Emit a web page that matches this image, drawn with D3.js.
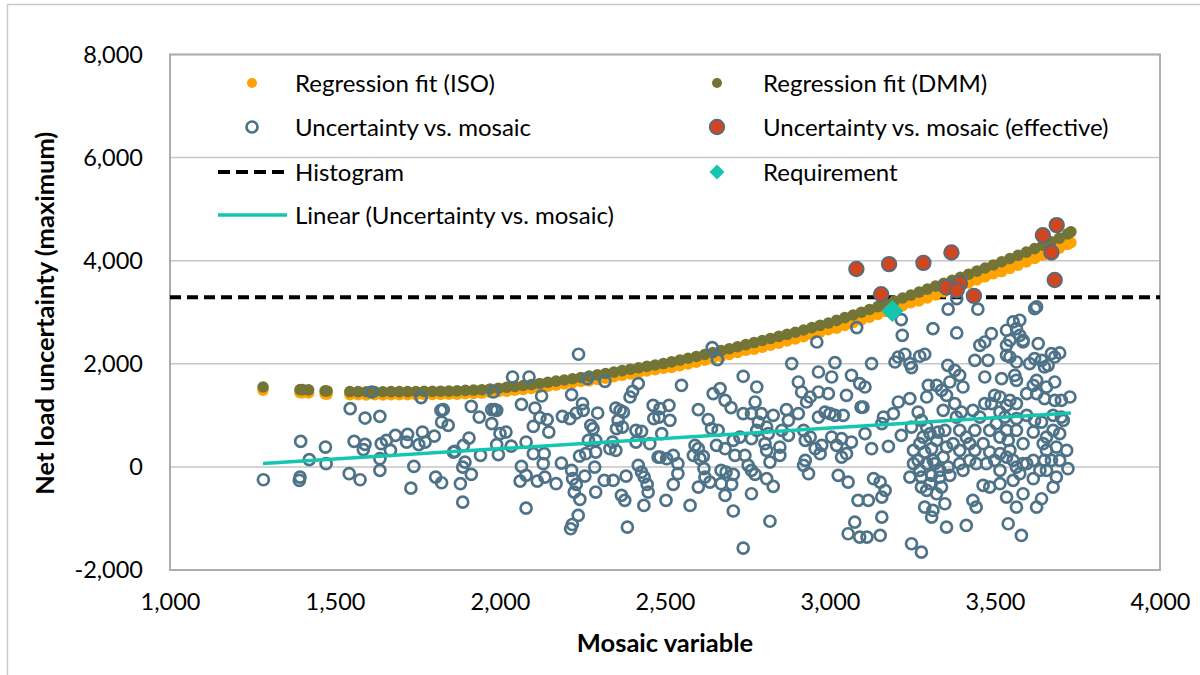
<!DOCTYPE html>
<html>
<head>
<meta charset="utf-8">
<script src="https://cdn.jsdelivr.net/npm/d3@7"></script>
<style>
  html, body { margin: 0; padding: 0; background: #fff; }
  svg { display: block; }
  text { font-family: Lato, "Open Sans", sans-serif; fill: #000; }
</style>
</head>
<body>
<svg id="chart" width="1200" height="675"></svg>
<script>
// ---- data ----
const yTicks = [-2000, 0, 2000, 4000, 6000, 8000];
const xTicks = [1000, 1500, 2000, 2500, 3000, 3500, 4000];

// mosaic variable positions of the regression-fit points
const fitX = [1282, 1394, 1402, 1420, 1470, 1476,
  1545, 1570, 1595, 1620, 1645, 1670, 1695, 1720, 1745, 1770, 1795, 1820, 1845,
  1870, 1895, 1920, 1945, 1970, 1995, 2020, 2045, 2070, 2095, 2120, 2145, 2170, 2195,
  2220, 2245, 2270, 2295, 2320, 2345, 2370, 2395, 2420, 2445, 2470, 2495, 2520, 2545,
  2570, 2595, 2620, 2645, 2670, 2695, 2720, 2745, 2770, 2795, 2820, 2845, 2870, 2895,
  2920, 2945, 2970, 2995, 3020, 3045, 3070, 3095, 3120, 3145, 3170, 3195, 3220, 3245,
  3270, 3295, 3320, 3345, 3370, 3395, 3420, 3445, 3470, 3495, 3520, 3545, 3570, 3595,
  3620, 3645, 3670, 3695, 3720, 3730];

const fitISO = [1490, 1440, 1440, 1435, 1415, 1413,
  1402, 1400, 1398, 1400, 1398, 1400, 1401, 1402, 1403, 1405, 1406, 1408, 1410,
  1411, 1419, 1426, 1433, 1447, 1462, 1469, 1487, 1504, 1522, 1543, 1566, 1588, 1611,
  1635, 1660, 1670, 1695, 1722, 1750, 1777, 1805, 1832, 1860, 1887, 1915, 1928, 1963,
  1998, 2033, 2070, 2108, 2145, 2183, 2222, 2262, 2282, 2322, 2362, 2402, 2442, 2482,
  2526, 2571, 2616, 2661, 2692, 2745, 2797, 2850, 2904, 2959, 3014, 3069, 3126, 3184,
  3221, 3279, 3336, 3394, 3451, 3509, 3568, 3628, 3688, 3748, 3790, 3853, 3915, 3978,
  4044, 4110, 4177, 4245, 4315, 4350];

const fitDMM = [1550, 1500, 1500, 1495, 1475, 1473,
  1462, 1460, 1458, 1460, 1458, 1460, 1461, 1462, 1463, 1465, 1466, 1468, 1470,
  1476, 1484, 1491, 1498, 1512, 1527, 1544, 1562, 1579, 1597, 1618, 1641, 1663, 1686,
  1710, 1735, 1760, 1785, 1812, 1840, 1867, 1895, 1922, 1950, 1977, 2005, 2038, 2073,
  2108, 2143, 2180, 2218, 2255, 2293, 2332, 2372, 2412, 2452, 2492, 2532, 2572, 2612,
  2656, 2701, 2746, 2791, 2842, 2895, 2947, 3000, 3054, 3109, 3164, 3219, 3276, 3334,
  3391, 3449, 3506, 3564, 3621, 3679, 3738, 3798, 3858, 3918, 3980, 4043, 4105, 4168,
  4234, 4302, 4369, 4437, 4520, 4560];

// uncertainty vs. mosaic: [mosaic variable, net load uncertainty]
const uncertainty = [
  [1283,-249],[1396,495],[1394,-198],[1392,-262],[1422,140],[1471,385],[1473,62],[1546,1130],
  [1591,948],[1636,981],[1611,1453],[1558,495],[1591,437],[1586,334],[1543,-132],[1576,-249],
  [1636,159],[1636,-68],[1640,450],[1656,515],[1668,320],[1683,612],[1720,631],[1717,482],
  [1739,10],[1730,-412],[1761,1344],[1765,676],[1754,431],[1773,482],[1801,598],[1805,-198],
  [1823,-307],[1821,1097],[1828,1111],[1823,870],[1843,806],[1859,288],
  [1863,301],[1889,418],[1906,560],[1894,93],[1887,-4],[1913,-146],[1880,-326],[1887,-684],
  [1913,1175],[1937,967],[1941,223],[1975,1111],[1983,1111],[1990,1097],[1975,839],[1980,1453],
  [2000,645],[2018,676],[1990,431],[1995,237],[2034,404],[2038,1744],[2088,1744],[2065,1214],
  [2106,1142],[2126,1375],[2121,955],[2101,787],[2148,676],[2143,917],[2079,482],[2101,256],
  [2065,10],[2079,-165],[2061,-275],[2113,-275],[2136,-198],[2131,62],[2134,256],[2079,-800],
  [2186,74],[2170,-326],[2189,981],[2212,936],[2217,1402],[2238,2185],[2231,1045],[2250,1227],
  [2252,1097],[2265,1713],[2296,1045],[2275,806],[2282,742],[2290,515],[2268,515],[2260,256],
  [2241,210],[2290,288],[2287,-4],[2217,-68],[2220,-229],[2231,-340],[2225,-489],[2242,-631],
  [2237,-942],[2219,-1117],[2214,-1200],[2257,-179],[2290,-489],[2318,1660],[2316,-262],[2343,-262],
  [2382,-179],[2368,-553],[2378,-650],[2386,-1169],[2351,1142],[2364,1097],[2374,1064],[2358,903],
  [2371,773],[2353,742],[2394,1356],[2402,1466],[2419,1616],[2412,709],[2429,689],[2341,482],
  [2333,353],[2351,320],[2412,482],[2454,450],[2419,29],[2429,-101],[2437,-198],[2446,-340],
  [2449,-489],[2436,-748],[2464,1194],[2466,936],[2482,967],[2479,190],
  [2485,1130],[2512,1194],[2515,903],[2490,645],[2485,190],[2505,159],[2525,223],[2539,62],
  [2539,-132],[2525,-340],[2503,-650],[2576,-748],[2550,1583],[2601,1111],[2631,917],[2641,742],
  [2661,709],[2591,418],[2601,353],[2616,204],[2586,223],[2606,159],[2618,-35],[2621,-198],
  [2601,-392],[2636,-295],[2643,2315],[2659,2082],[2646,1421],[2667,1519],[2682,1291],[2700,1150],
  [2737,1758],[2778,1550],[2773,1259],[2737,1033],[2762,1033],[2792,1033],[2828,1000],[2783,870],
  [2808,773],[2778,709],[2762,548],[2813,645],[2803,450],[2808,320],[2848,385],[2848,223],
  [2818,93],[2656,418],[2682,353],[2712,223],[2742,223],[2707,515],[2727,579],[2670,-68],
  [2685,-101],[2707,-146],[2702,-340],[2682,-553],[2707,-855],[2670,-326],[2752,29],[2762,-68],
  [2773,-146],[2762,-521],[2808,-229],[2828,-379],[2818,-1054],[2737,-1574],[2868,1111],[2884,2004],
  [2904,1647],[2914,1453],[2929,1259],[2940,1356],[2965,1453],[2995,1421],[2965,1841],[3005,1744],
  [3015,2023],[2960,2423],[2904,1033],[2874,903],[2874,612],[2854,709],[2920,709],[2940,579],
  [2925,515],[2965,967],[2985,1064],[3000,1033],[3015,1000],[3040,1000],[2955,353],[2970,256],
  [2975,418],[3005,579],[3035,548],[3020,418],[3065,482],[3035,190],[3050,256],[2920,29],
  [2925,126],[2935,-132],[3025,-165],[3055,-295],[3050,1389],[3065,1777],[3085,-650],[3075,-1072],
  [3055,-1297],[3090,-1362],[3090,1616],[3094,1161],[3081,2703],
  [3358,3059],[3448,3059],[3384,3266],[3216,2858],[3219,2553],[3312,2683],[3384,2598],[3126,2004],
  [3197,2035],[3207,2132],[3227,2185],[3247,1926],[3242,2004],[3272,2146],[3287,2185],[3357,1971],
  [3378,1874],[3393,1777],[3403,1550],[3363,1647],[3323,1583],[3298,1583],[3338,1486],[3353,1389],
  [3378,1227],[3293,1356],[3242,1324],[3207,1259],[3192,1033],[3162,967],[3157,839],[3106,645],
  [3106,1550],[3100,1161],[3216,612],[3126,353],[3177,398],[3247,773],[3267,1064],[3277,903],
  [3293,773],[3303,645],[3328,676],[3282,579],[3267,126],[3287,288],[3308,353],[3343,190],
  [3318,62],[3293,62],[3242,-198],[3277,-198],[3308,-165],[3333,-198],[3363,-165],[3277,-392],
  [3303,-326],[3338,-392],[3287,-781],[3312,-845],[3308,-975],[3348,-715],[3353,-1169],[3247,-1491],
  [3277,-1654],[3132,-229],[3152,-295],[3167,-456],[3157,-586],[3116,-650],[3157,-975],[3152,-1330],
  [3112,-1362],[3413,-1136],[3433,-650],[3443,-781],[3393,62],[3403,-68],[3443,62],[3474,62],
  [3499,126],[3464,-359],[3484,-392],[3515,-326],[3535,-586],[3565,-781],[3540,-1103],[3580,-1330],
  [3626,-781],[3641,-618],[3676,-392],[3686,-198],[3656,-68],[3616,-229],[3585,-521],[3555,-262],
  [3575,-132],[3596,62],[3650,126],[3696,126],[3721,-35],[3393,709],[3413,579],[3423,450],
  [3439,320],[3464,450],[3484,709],[3504,839],[3515,579],[3535,709],[3540,515],[3565,709],
  [3585,450],[3545,320],[3515,256],[3484,288],[3616,676],[3646,450],[3656,320],[3686,385],
  [3696,645],[3701,967],[3676,1000],[3641,870],[3620,903],[3596,1000],[3565,936],[3530,967],
  [3515,1064],[3489,1227],[3499,1389],[3515,1356],[3535,1194],[3545,1291],[3565,1227],[3596,1421],
  [3616,1583],[3626,1421],[3650,1324],[3681,1291],[3701,1291],[3727,1356],[3656,1550],[3681,1647],
  [3626,1680],[3605,2004],[3620,2101],[3641,2068],[3650,1938],[3661,1971],[3671,2198],[3696,2210],
  [3681,2132],[3631,2392],[3585,2423],[3545,2456],[3535,2359],[3535,2165],[3545,2132],[3565,2035],
  [3560,1777],[3565,1680],[3520,1712],[3469,1744],[3439,2068],[3479,2068],[3454,2359],[3469,2423],
  [3489,2587],[3535,2651],[3555,2812],[3575,2845],[3565,2683],[3585,2456],[3575,2553],[3626,3103],
  [3620,3072],
  [3253,320],[3272,450],[3323,515],[3353,385],[3373,450],[3393,320],[3423,126],[3439,709],
  [3454,967],[3469,1227],[3433,1097],[3383,967],[3398,1064],[3343,1097],[3348,709],[3333,-68],
  [3358,-4],[3313,126],[3272,-68],[3253,62],[3293,-456],[3323,-521],[3555,126],[3565,-4],
  [3585,62],[3616,126],[3636,-68],[3671,126],[3535,190],[3515,-68],[3676,709],[3656,579],
  [3717,320],[3707,903]
];

// uncertainty vs. mosaic (effective)
const effective = [
  [3080,3840],[3179,3933],[3283,3958],[3368,4160],[3155,3350],[3353,3480],[3394,3558],[3384,3428],
  [3436,3317],[3645,4495],[3687,4690],[3671,4160],[3681,3625]
];

const histogramLevel = 3290;
const requirement = [[3189, 3026]];
// linear trend of uncertainty vs. mosaic, drawn between its end points
const trendEnds = [[1282, 66], [3730, 1045]];

// ---- colours ----
const C = {
  iso: "#FFA300",
  dmm: "#737436",
  open: "#4E7388",
  eff: "#D2461F",
  effStroke: "#5C6A78",
  teal: "#14C6B0",
  grid: "#C6C6C6",
  border: "#ADADAD"
};

// ---- layout ----
const svg = d3.select("#chart");
const plot = { left: 170, right: 1160, top: 54.5, bottom: 570 };
const x = d3.scaleLinear().domain([1000, 4000]).range([plot.left, plot.right]);
const y = d3.scaleLinear().domain([-2000, 8000]).range([plot.bottom, plot.top]);
// thousands separator with a plain hyphen for negatives
const fmt = v => d3.format(",")(v).replace("\u2212", "-");

// chart area outline
svg.append("path")
  .attr("d", "M7.5,675V4.5H1200")
  .attr("fill", "none").attr("stroke", "#C9C9C9").attr("stroke-width", 1.5);

// horizontal gridlines
svg.append("g").selectAll("line").data(yTicks).join("line")
  .attr("x1", plot.left).attr("x2", plot.right)
  .attr("y1", d => y(d)).attr("y2", d => y(d))
  .attr("stroke", C.grid).attr("stroke-width", 1.5);

// plot area border
svg.append("rect")
  .attr("x", plot.left).attr("y", plot.top)
  .attr("width", plot.right - plot.left).attr("height", plot.bottom - plot.top)
  .attr("fill", "none").attr("stroke", C.border).attr("stroke-width", 2);

// axes (labels only)
const yAxis = svg.append("g").attr("transform", `translate(${plot.left},0)`)
  .call(d3.axisLeft(y).tickValues(yTicks).tickFormat(fmt).tickSize(0).tickPadding(27));
const xAxis = svg.append("g").attr("transform", `translate(0,${plot.bottom})`)
  .call(d3.axisBottom(x).tickValues(xTicks).tickFormat(fmt).tickSize(0).tickPadding(23));
[yAxis, xAxis].forEach(g => {
  g.select(".domain").remove();
  g.selectAll("text").attr("font-size", 23.5).attr("font-family", "Lato, sans-serif").attr("fill", "#000");
});

// axis titles
svg.append("text")
  .attr("transform", `translate(54,${(plot.top + plot.bottom) / 2 + 1}) rotate(-90)`)
  .attr("text-anchor", "middle").attr("font-size", 25.5).attr("font-weight", "bold")
  .text("Net load uncertainty (maximum)");
svg.append("text")
  .attr("x", (plot.left + plot.right) / 2).attr("y", 652)
  .attr("text-anchor", "middle").attr("font-size", 25.5).attr("font-weight", "bold")
  .text("Mosaic variable");

// histogram level
svg.append("line")
  .attr("x1", plot.left).attr("x2", plot.right)
  .attr("y1", y(histogramLevel)).attr("y2", y(histogramLevel))
  .attr("stroke", "#000").attr("stroke-width", 4).attr("stroke-dasharray", "11,6");

// regression fits
svg.append("g").selectAll("circle").data(fitX.map((d, i) => [d, fitISO[i]])).join("circle")
  .attr("cx", d => x(d[0])).attr("cy", d => y(d[1])).attr("r", 5.8).attr("fill", C.iso);
svg.append("g").selectAll("circle").data(fitX.map((d, i) => [d, fitDMM[i]])).join("circle")
  .attr("cx", d => x(d[0])).attr("cy", d => y(d[1])).attr("r", 5.8).attr("fill", C.dmm);

// uncertainty points
svg.append("g").selectAll("circle").data(uncertainty).join("circle")
  .attr("cx", d => x(d[0])).attr("cy", d => y(d[1])).attr("r", 5.5)
  .attr("fill", "none").attr("stroke", C.open).attr("stroke-width", 2.7);

// effective points
svg.append("g").selectAll("circle").data(effective).join("circle")
  .attr("cx", d => x(d[0])).attr("cy", d => y(d[1])).attr("r", 7.2)
  .attr("fill", C.eff).attr("stroke", C.effStroke).attr("stroke-width", 2);

// requirement
const diamond = (s) => `M0,${-s}L${s},0L0,${s}L${-s},0Z`;
svg.append("g").selectAll("path").data(requirement).join("path")
  .attr("transform", d => `translate(${x(d[0])},${y(d[1])})`)
  .attr("d", diamond(11)).attr("fill", C.teal);

// linear trend
svg.append("path")
  .attr("d", d3.line().x(d => x(d[0])).y(d => y(d[1]))(trendEnds))
  .attr("fill", "none").attr("stroke", C.teal).attr("stroke-width", 3.5);

// ---- legend ----
const legend = svg.append("g").attr("font-size", 24);
const rowY = [83, 127, 172, 215];
const colA = 252, colB = 717, txtA = 295, txtB = 763;
const addText = (tx, ty, s) => legend.append("text").attr("x", tx).attr("y", ty + 8.5).text(s);

legend.append("circle").attr("cx", colA).attr("cy", rowY[0]).attr("r", 5).attr("fill", C.iso);
addText(txtA, rowY[0], "Regression fit (ISO)");
legend.append("circle").attr("cx", colB).attr("cy", rowY[0]).attr("r", 5).attr("fill", C.dmm);
addText(txtB, rowY[0], "Regression fit (DMM)");

legend.append("circle").attr("cx", colA).attr("cy", rowY[1]).attr("r", 5.5)
  .attr("fill", "none").attr("stroke", C.open).attr("stroke-width", 2.7);
addText(txtA, rowY[1], "Uncertainty vs. mosaic");
legend.append("circle").attr("cx", colB).attr("cy", rowY[1]).attr("r", 7.2)
  .attr("fill", C.eff).attr("stroke", C.effStroke).attr("stroke-width", 2);
addText(txtB, rowY[1], "Uncertainty vs. mosaic (effective)");

legend.append("line").attr("x1", 218).attr("x2", 287).attr("y1", rowY[2]).attr("y2", rowY[2])
  .attr("stroke", "#000").attr("stroke-width", 4).attr("stroke-dasharray", "12,6");
addText(txtA, rowY[2], "Histogram");
legend.append("path").attr("transform", `translate(${colB},${rowY[2]})`)
  .attr("d", diamond(7.5)).attr("fill", C.teal);
addText(txtB, rowY[2], "Requirement");

legend.append("line").attr("x1", 218).attr("x2", 287).attr("y1", rowY[3]).attr("y2", rowY[3])
  .attr("stroke", C.teal).attr("stroke-width", 3.5);
addText(txtA, rowY[3], "Linear (Uncertainty vs. mosaic)");
</script>
</body>
</html>
